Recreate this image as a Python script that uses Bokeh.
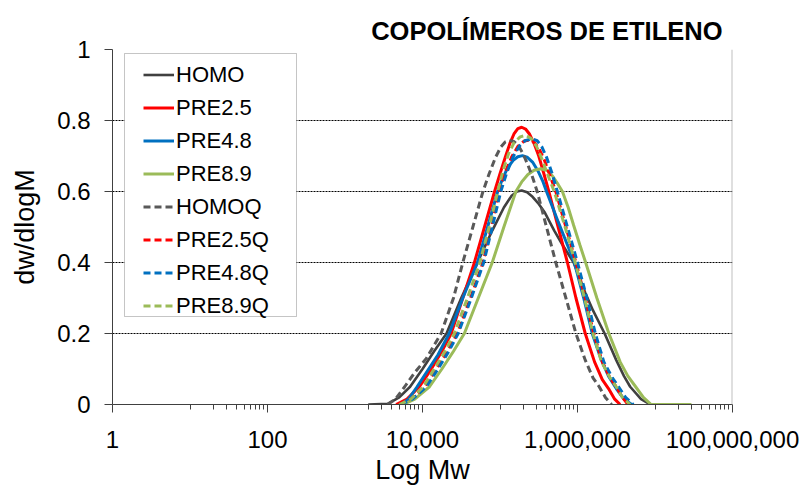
from bokeh.plotting import figure
from bokeh.models import (Range1d, FixedTicker, NumeralTickFormatter, Legend,
                          LegendItem, Span, BoxAnnotation)
from bokeh.embed import file_html
from bokeh.resources import INLINE

FONT = "Liberation Sans"

# Molecular weight distributions: log10(Mw) and dw/dlogM per sample
homo_log = [3.30, 3.55, 3.70, 3.84, 4.00, 4.15, 4.31, 4.50, 4.71, 4.90, 5.05, 5.15, 5.22,
            5.28, 5.35, 5.42, 5.50, 5.58, 5.70, 5.80, 5.95, 6.10, 6.20, 6.35, 6.50, 6.60,
            6.68, 6.82, 6.94]
homo_dw = [0.000, 0.002, 0.020, 0.050, 0.100, 0.150, 0.200, 0.300, 0.400, 0.490, 0.555, 0.588,
           0.600, 0.603, 0.598, 0.585, 0.565, 0.540, 0.490, 0.452, 0.400, 0.315, 0.265, 0.200,
           0.125, 0.080, 0.050, 0.015, 0.000]

pre25_log = [3.66, 3.80, 3.96, 4.10, 4.25, 4.37, 4.52, 4.67, 4.80, 4.93, 5.00, 5.07, 5.13,
             5.18, 5.23, 5.28, 5.33, 5.38, 5.44, 5.50, 5.56, 5.63, 5.75, 5.87, 5.98, 6.10,
             6.22, 6.32, 6.40, 6.48, 6.55]
pre25_dw = [0.000, 0.015, 0.050, 0.095, 0.150, 0.200, 0.300, 0.400, 0.500, 0.600, 0.650,
            0.698, 0.737, 0.762, 0.777, 0.781, 0.776, 0.762, 0.735, 0.700, 0.655, 0.600,
            0.500, 0.400, 0.300, 0.200, 0.120, 0.070, 0.045, 0.015, 0.000]

pre48_log = [3.72, 3.82, 3.93, 4.05, 4.20, 4.345, 4.52, 4.71, 4.84, 4.97, 5.04, 5.10, 5.17,
             5.23, 5.29, 5.35, 5.42, 5.49, 5.55, 5.60, 5.68, 5.75, 5.86, 5.96, 6.08, 6.19,
             6.30, 6.40, 6.50, 6.60, 6.70]
pre48_dw = [0.000, 0.015, 0.050, 0.090, 0.140, 0.200, 0.300, 0.400, 0.500, 0.600, 0.640,
            0.667, 0.688, 0.698, 0.701, 0.697, 0.683, 0.658, 0.630, 0.600, 0.555, 0.515,
            0.455, 0.400, 0.300, 0.200, 0.130, 0.080, 0.045, 0.015, 0.000]

pre89_log = [3.75, 3.90, 4.09, 4.25, 4.40, 4.54, 4.72, 4.90, 5.05, 5.205, 5.28, 5.36, 5.44,
             5.53, 5.61, 5.68, 5.75, 5.805, 5.88, 5.95, 6.03, 6.105, 6.25, 6.405, 6.55, 6.65,
             6.75, 6.85, 6.95, 7.47]
pre89_dw = [0.000, 0.015, 0.050, 0.100, 0.150, 0.200, 0.300, 0.400, 0.500, 0.600, 0.627,
            0.648, 0.660, 0.664, 0.659, 0.643, 0.620, 0.600, 0.555, 0.505, 0.450, 0.400,
            0.300, 0.200, 0.120, 0.080, 0.050, 0.020, 0.000, 0.000]

homoq_log = [3.55, 3.65, 3.77, 3.90, 4.05, 4.24, 4.40, 4.52, 4.65, 4.78, 4.86, 4.94, 5.01,
             5.07, 5.12, 5.18, 5.24, 5.30, 5.36, 5.42, 5.48, 5.60, 5.72, 5.85, 5.98, 6.10,
             6.20, 6.28, 6.36, 6.44]
homoq_dw = [0.000, 0.015, 0.050, 0.090, 0.130, 0.200, 0.300, 0.400, 0.500, 0.600, 0.650,
            0.695, 0.725, 0.740, 0.744, 0.741, 0.728, 0.705, 0.675, 0.640, 0.600, 0.500,
            0.400, 0.300, 0.200, 0.125, 0.075, 0.050, 0.020, 0.000]

pre25q_log = [3.70, 3.85, 4.03, 4.18, 4.32, 4.45, 4.62, 4.78, 4.89, 4.99, 5.07, 5.15, 5.23,
              5.31, 5.38, 5.44, 5.50, 5.57, 5.64, 5.72, 5.85, 5.98, 6.10, 6.21, 6.32, 6.42,
              6.50, 6.58, 6.65]
pre25q_dw = [0.000, 0.015, 0.050, 0.100, 0.150, 0.200, 0.300, 0.400, 0.500, 0.600, 0.655,
             0.697, 0.727, 0.742, 0.745, 0.739, 0.722, 0.690, 0.648, 0.600, 0.500, 0.400,
             0.300, 0.200, 0.120, 0.075, 0.050, 0.020, 0.000]

pre48q_log = [3.72, 3.87, 4.05, 4.20, 4.34, 4.46, 4.63, 4.79, 4.90, 5.01, 5.09, 5.17, 5.25,
              5.33, 5.42, 5.48, 5.54, 5.60, 5.67, 5.74, 5.87, 6.00, 6.12, 6.23, 6.34, 6.45,
              6.53, 6.62, 6.72]
pre48q_dw = [0.000, 0.015, 0.050, 0.100, 0.150, 0.200, 0.300, 0.400, 0.500, 0.600, 0.655,
             0.698, 0.728, 0.744, 0.748, 0.743, 0.726, 0.697, 0.652, 0.600, 0.500, 0.400,
             0.300, 0.200, 0.120, 0.075, 0.050, 0.020, 0.000]

pre89q_log = [3.70, 3.85, 4.01, 4.15, 4.29, 4.41, 4.58, 4.74, 4.86, 4.97, 5.04, 5.11, 5.18,
              5.26, 5.33, 5.40, 5.47, 5.54, 5.62, 5.70, 5.84, 5.97, 6.09, 6.20, 6.31, 6.42,
              6.50, 6.58, 6.68]
pre89q_dw = [0.000, 0.015, 0.050, 0.100, 0.150, 0.200, 0.300, 0.400, 0.500, 0.600, 0.660,
             0.706, 0.737, 0.754, 0.758, 0.750, 0.728, 0.692, 0.645, 0.600, 0.500, 0.400,
             0.300, 0.200, 0.120, 0.075, 0.050, 0.020, 0.000]

series = [
    ("HOMO", homo_log, homo_dw, "#404040", None, 2.6),
    ("PRE2.5", pre25_log, pre25_dw, "#FF0000", None, 3.0),
    ("PRE4.8", pre48_log, pre48_dw, "#0070C0", None, 3.0),
    ("PRE8.9", pre89_log, pre89_dw, "#9BBB59", None, 3.0),
    ("HOMOQ", homoq_log, homoq_dw, "#595959", "7 4", 3.0),
    ("PRE2.5Q", pre25q_log, pre25q_dw, "#FF0000", "7 4", 3.0),
    ("PRE4.8Q", pre48q_log, pre48q_dw, "#0070C0", "7 4", 3.0),
    ("PRE8.9Q", pre89q_log, pre89q_dw, "#9BBB59", "7 4", 3.0),
]

x_major = [1, 100, 10000, 1000000, 100000000]
x_minor = [m * 10 ** d for d in (1, 3, 5, 7) for m in range(1, 10)]
y_major = [0, 0.2, 0.4, 0.6, 0.8, 1.0]

p = figure(width=804, height=491, x_axis_type="log",
           x_range=Range1d(1, 1e8), y_range=Range1d(0, 1),
           output_backend="svg", toolbar_location=None,
           min_border_left=112, min_border_right=72,
           min_border_top=49, min_border_bottom=87,
           title="COPOLÍMEROS DE ETILENO")

p.background_fill_color = "white"
p.border_fill_color = "white"
p.outline_line_color = None

p.title.align = "right"
p.title.offset = 10
p.title.text_font = FONT
p.title.text_font_size = "25.5px"
p.title.text_font_style = "bold"
p.title.text_color = "black"

# axes
p.xaxis.ticker = FixedTicker(ticks=x_major, minor_ticks=x_minor)
p.xaxis.formatter = NumeralTickFormatter(format="0,0")
p.yaxis.ticker = FixedTicker(ticks=y_major)
p.yaxis.formatter = NumeralTickFormatter(format="0.[0]")

for ax in (p.xaxis[0], p.yaxis[0]):
    ax.axis_line_color = "#404040"
    ax.axis_line_width = 1
    ax.major_tick_line_color = "#404040"
    ax.minor_tick_line_color = "#404040"
    ax.major_tick_out = 8
    ax.major_tick_in = 0
    ax.minor_tick_out = 5
    ax.minor_tick_in = 0
    ax.major_label_text_font = FONT
    ax.major_label_text_font_size = "24px"
    ax.major_label_text_color = "black"
    ax.axis_label_text_font = FONT
    ax.axis_label_text_font_size = "27px"
    ax.axis_label_text_font_style = "normal"
    ax.axis_label_text_color = "black"

p.yaxis.minor_tick_line_color = None
p.xaxis.axis_label = "Log Mw"
p.yaxis.axis_label = "dw/dlogM"
p.xaxis.major_label_standoff = 18
p.xaxis.axis_label_standoff = 4
p.yaxis.major_label_standoff = 14
p.yaxis.axis_label_standoff = 14

p.xgrid.grid_line_color = None
p.ygrid.ticker = FixedTicker(ticks=y_major)
p.ygrid.grid_line_color = "black"
p.ygrid.grid_line_dash = "2 1"
p.ygrid.grid_line_width = 1

# right frame border
p.add_layout(Span(location=1e8, dimension="height", line_color="#BFBFBF", line_width=2))

items = []
for name, logs, dws, color, dash, lw in series:
    mw = [10 ** v for v in logs]
    kw = dict(line_color=color, line_width=lw)
    if dash:
        kw["line_dash"] = dash
    r = p.line(mw, dws, **kw)
    items.append(LegendItem(label=name, renderers=[r]))

# legend frame
p.add_layout(BoxAnnotation(left=12, right=184, top=351, bottom=88,
                           left_units="screen", right_units="screen",
                           top_units="screen", bottom_units="screen",
                           fill_color="white", fill_alpha=1.0,
                           line_color="#404040", line_width=1))

legend = Legend(items=items, location=(31, 83), padding=3, spacing=2,
                glyph_width=31, glyph_height=31, label_height=31, label_standoff=2,
                label_text_font=FONT, label_text_font_size="22px",
                label_text_color="black",
                border_line_color=None, background_fill_alpha=0)
p.add_layout(legend, "center")

open("out.html", "w").write(file_html(p, INLINE))
